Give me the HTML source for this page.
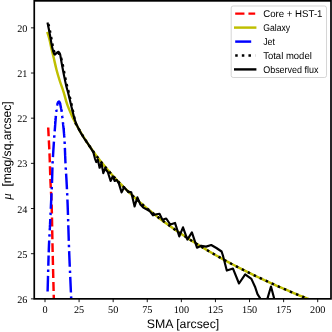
<!DOCTYPE html>
<html><head><meta charset="utf-8"><title>Surface brightness profile</title>
<style>
html,body{margin:0;padding:0;background:#fff;}
body{width:332px;height:332px;overflow:hidden;}
svg{display:block;will-change:transform;}
text{text-rendering:geometricPrecision;}
.tk{font-family:"Liberation Serif",serif;font-size:10.2px;fill:#000;}
.lb{font-family:"Liberation Sans",sans-serif;font-size:12.3px;fill:#000;}
.lg{font-family:"Liberation Sans",sans-serif;font-size:9.8px;fill:#000;}
.mu{font-family:"Liberation Serif",serif;font-style:italic;font-size:13px;fill:#000;}
</style></head><body>
<svg width="332" height="332" viewBox="0 0 332 332">
<rect width="332" height="332" fill="#fff"/>
<defs><clipPath id="ax"><rect x="34.25" y="0.85" width="296.75" height="298.0"/></clipPath></defs>
<g clip-path="url(#ax)" fill="none" stroke-width="2.45">
<path d="M48.20 127.50 C48.43 132.25 49.22 146.87 49.60 156.00 C49.98 165.13 50.15 173.87 50.50 182.30 C50.85 190.73 51.35 195.32 51.70 206.60 C52.05 217.88 52.25 234.77 52.60 250.00 C52.95 265.23 53.55 288.00 53.80 298.00 C54.05 308.00 54.05 308.00 54.10 310.00" stroke="#ff0000" stroke-dasharray="9.0 3.87" stroke-dashoffset="0"/>
<path d="M47.60 33.00 C47.93 34.17 48.98 37.50 49.60 40.00 C50.22 42.50 50.63 45.12 51.30 48.00 C51.97 50.88 52.73 53.68 53.60 57.30 C54.47 60.92 55.47 65.75 56.50 69.70 C57.53 73.65 58.60 77.23 59.80 81.00 C61.00 84.77 62.45 88.35 63.70 92.30 C64.95 96.25 65.87 100.63 67.30 104.70 C68.73 108.77 70.97 113.76 72.30 116.74 C73.63 119.73 74.30 120.70 75.30 122.59 C76.30 124.48 77.30 126.30 78.30 128.08 C79.30 129.86 80.30 131.58 81.30 133.26 C82.30 134.94 83.30 136.57 84.30 138.17 C85.30 139.77 86.30 141.32 87.30 142.84 C88.30 144.36 89.30 145.84 90.30 147.30 C91.30 148.75 92.30 150.17 93.30 151.56 C94.30 152.96 95.30 154.32 96.30 155.66 C97.30 156.99 98.30 158.30 99.30 159.59 C100.30 160.88 101.30 162.14 102.30 163.39 C103.30 164.63 104.30 165.85 105.30 167.05 C106.30 168.25 107.30 169.43 108.30 170.59 C109.30 171.75 110.30 172.89 111.30 174.02 C112.30 175.14 113.30 176.25 114.30 177.34 C115.30 178.43 116.30 179.51 117.30 180.57 C118.30 181.63 119.30 182.67 120.30 183.70 C121.30 184.73 122.30 185.75 123.30 186.75 C124.30 187.75 125.30 188.74 126.30 189.72 C127.30 190.70 128.30 191.66 129.30 192.61 C130.30 193.57 131.30 194.51 132.30 195.44 C133.30 196.37 134.30 197.28 135.30 198.19 C136.30 199.10 137.30 200.00 138.30 200.88 C139.30 201.77 140.30 202.65 141.30 203.51 C142.30 204.38 143.30 205.24 144.30 206.09 C145.30 206.93 146.30 207.77 147.30 208.60 C148.30 209.43 149.30 210.25 150.30 211.07 C151.30 211.88 152.30 212.68 153.30 213.48 C154.30 214.28 155.30 215.07 156.30 215.85 C157.30 216.63 158.30 217.40 159.30 218.17 C160.30 218.94 161.30 219.69 162.30 220.45 C163.30 221.20 164.30 221.94 165.30 222.68 C166.30 223.42 167.30 224.15 168.30 224.87 C169.30 225.60 170.30 226.32 171.30 227.03 C172.30 227.74 173.30 228.45 174.30 229.15 C175.30 229.85 176.30 230.54 177.30 231.23 C178.30 231.92 179.30 232.60 180.30 233.28 C181.30 233.95 182.30 234.62 183.30 235.29 C184.30 235.95 185.30 236.61 186.30 237.27 C187.30 237.92 188.30 238.57 189.30 239.22 C190.30 239.86 191.30 240.50 192.30 241.14 C193.30 241.77 194.30 242.40 195.30 243.03 C196.30 243.65 197.30 244.27 198.30 244.89 C199.30 245.50 200.30 246.11 201.30 246.72 C202.30 247.33 203.30 247.93 204.30 248.53 C205.30 249.12 206.30 249.72 207.30 250.31 C208.30 250.90 209.30 251.48 210.30 252.06 C211.30 252.64 212.30 253.22 213.30 253.79 C214.30 254.37 215.30 254.94 216.30 255.50 C217.30 256.07 218.30 256.63 219.30 257.19 C220.30 257.74 221.30 258.30 222.30 258.85 C223.30 259.40 224.30 259.95 225.30 260.49 C226.30 261.03 227.30 261.57 228.30 262.11 C229.30 262.64 230.30 263.18 231.30 263.71 C232.30 264.24 233.30 264.76 234.30 265.28 C235.30 265.81 236.30 266.33 237.30 266.84 C238.30 267.36 239.30 267.87 240.30 268.38 C241.30 268.89 242.30 269.40 243.30 269.90 C244.30 270.41 245.30 270.91 246.30 271.41 C247.30 271.90 248.30 272.40 249.30 272.89 C250.30 273.38 251.30 273.87 252.30 274.36 C253.30 274.84 254.30 275.33 255.30 275.81 C256.30 276.29 257.30 276.77 258.30 277.24 C259.30 277.72 260.30 278.19 261.30 278.66 C262.30 279.13 263.30 279.60 264.30 280.06 C265.30 280.53 266.30 280.99 267.30 281.45 C268.30 281.91 269.30 282.36 270.30 282.82 C271.30 283.27 272.30 283.72 273.30 284.17 C274.30 284.62 275.30 285.07 276.30 285.52 C277.30 285.96 278.30 286.40 279.30 286.84 C280.30 287.28 281.30 287.72 282.30 288.16 C283.30 288.59 284.30 289.03 285.30 289.46 C286.30 289.89 287.30 290.32 288.30 290.74 C289.30 291.17 290.30 291.59 291.30 292.02 C292.30 292.44 293.30 292.86 294.30 293.28 C295.30 293.69 296.30 294.11 297.30 294.52 C298.30 294.94 299.30 295.35 300.30 295.76 C301.30 296.17 302.30 296.58 303.30 296.98 C304.30 297.39 305.30 297.79 306.30 298.19 C307.30 298.60 308.30 299.00 309.30 299.39 C310.30 299.79 311.30 300.19 312.30 300.58 C313.30 300.98 314.30 301.37 315.30 301.76 C316.30 302.15 317.30 302.54 318.30 302.93 C319.30 303.31 320.30 303.70 321.30 304.08 C322.30 304.46 323.80 305.03 324.30 305.22" stroke="#bfbf00" stroke-linecap="square" stroke-linejoin="round"/>
<path d="M47.60 291.50 L47.62 290.99 L47.63 290.47 L47.65 289.92 L47.66 289.37 L47.68 288.79 L47.70 288.21 L47.71 287.61 L47.73 286.99 L47.75 286.36 L47.77 285.72 L47.78 285.07 L47.80 284.41 L47.82 283.73 L47.84 283.05 L47.86 282.36 L47.88 281.65 L47.90 280.94 L47.92 280.22 L47.94 279.49 L47.96 278.76 L47.98 278.02 L48.00 277.27 L48.02 276.52 L48.04 275.76 L48.06 275.00 L48.08 274.24 L48.10 273.47 L48.12 272.70 L48.14 271.93 L48.16 271.16 L48.18 270.38 L48.21 269.61 L48.23 268.83 L48.25 268.06 L48.27 267.29 L48.29 266.52 L48.31 265.75 L48.33 264.98 L48.36 264.22 L48.38 263.46 L48.40 262.71 L48.42 261.96 L48.44 261.22 L48.46 260.48 L48.49 259.75 L48.51 259.03 L48.53 258.32 L48.55 257.61 L48.57 256.92 L48.59 256.23 L48.61 255.55" stroke="#0000ff" stroke-dasharray="15.6 3.9 2.44 3.9" stroke-dashoffset="0"/>
<path d="M48.72 252.34 L48.74 251.73 L48.76 251.14 L48.78 250.56 L48.80 250.00 L48.82 249.45 L48.84 248.91 L48.86 248.37 L48.88 247.84 L48.90 247.32 L48.92 246.80 L48.94 246.29 L48.96 245.79 L48.98 245.29 L49.00 244.80 L49.02 244.32 L49.04 243.84 L49.07 243.37 L49.09 242.90 L49.11 242.44 L49.13 241.98 L49.15 241.53 L49.17 241.08 L49.19 240.64 L49.21 240.20 L49.23 239.77 L49.25 239.34 L49.27 238.92 L49.29 238.50 L49.32 238.08 L49.34 237.67 L49.36 237.26 L49.38 236.85 L49.40 236.45 L49.42 236.06 L49.44 235.66 L49.46 235.27 L49.48 234.88 L49.50 234.50 L49.52 234.11 L49.54 233.73 L49.56 233.35 L49.58 232.98 L49.60 232.61 L49.62 232.23 L49.64 231.86 L49.66 231.50 L49.68 231.13 L49.70 230.76 L49.72 230.40" stroke="#0000ff" stroke-dasharray="15.6 3.9 2.44 3.9" stroke-dashoffset="3.8"/>
<path d="M49.72 230.40 L49.74 230.04 L49.76 229.67 L49.78 229.31 L49.80 228.95 L49.82 228.59 L49.84 228.23 L49.86 227.88 L49.87 227.52 L49.89 227.16 L49.91 226.80 L49.93 226.44 L49.95 226.08 L49.96 225.72 L49.98 225.36 L50.00 225.00 L50.02 224.64 L50.03 224.29 L50.05 223.94 L50.07 223.59 L50.08 223.25 L50.10 222.92 L50.12 222.59 L50.13 222.26 L50.15 221.94 L50.17 221.62 L50.18 221.30 L50.20 220.99 L50.21 220.68 L50.23 220.38 L50.24 220.07 L50.26 219.77 L50.27 219.48 L50.29 219.18 L50.30 218.89 L50.31 218.60 L50.33 218.31 L50.34 218.02 L50.36 217.73 L50.37 217.45 L50.39 217.16 L50.40 216.88 L50.41 216.60 L50.43 216.32 L50.44 216.04 L50.46 215.76 L50.47 215.48 L50.48 215.19 L50.50 214.91 L50.51 214.63 L50.53 214.35 L50.54 214.07 L50.55 213.78 L50.57 213.50 L50.58 213.21 L50.60 212.93 L50.61 212.64 L50.62 212.35 L50.64 212.05 L50.65 211.76 L50.67 211.46 L50.68 211.16 L50.70 210.86 L50.71 210.55 L50.73 210.24 L50.74 209.93 L50.76 209.62 L50.77 209.30 L50.79 208.98 L50.80 208.65 L50.82 208.32 L50.83 207.98 L50.85 207.65 L50.87 207.30 L50.88 206.95 L50.90 206.60 L50.92 206.24 L50.93 205.88 L50.95 205.51 L50.97 205.14 L50.99 204.76 L51.00 204.38 L51.02 204.00 L51.04 203.61 L51.06 203.22 L51.08 202.83 L51.10 202.43 L51.12 202.03 L51.13 201.62 L51.15 201.22 L51.17 200.81 L51.19 200.39 L51.21 199.98 L51.23 199.56 L51.25 199.15 L51.27 198.73 L51.29 198.30 L51.31 197.88 L51.33 197.46 L51.35 197.03 L51.37 196.60 L51.39 196.18 L51.41 195.75 L51.43 195.32 L51.45 194.89 L51.47 194.46 L51.49 194.03 L51.51 193.60 L51.53 193.18 L51.55 192.75 L51.57 192.32 L51.59 191.89 L51.61 191.47 L51.62 191.04 L51.64 190.62 L51.66 190.20 L51.68 189.78 L51.70 189.36 L51.72 188.94 L51.74 188.53 L51.76 188.11 L51.77 187.70 L51.79 187.29 L51.81 186.89 L51.83 186.49 L51.84 186.09 L51.86 185.69 L51.88 185.30 L51.89 184.91 L51.91 184.53 L51.93 184.14 L51.94 183.77 L51.96 183.39 L51.97 183.02 L51.99 182.66 L52.00 182.30 L52.01 181.94 L52.03 181.59 L52.04 181.24 L52.05 180.89 L52.07 180.55 L52.08 180.21 L52.09 179.87 L52.10 179.54 L52.11 179.20 L52.12 178.87 L52.13 178.54 L52.14 178.22 L52.15 177.89 L52.16 177.57 L52.17 177.25 L52.18 176.93 L52.19 176.62 L52.20 176.30 L52.21 175.99 L52.22 175.68 L52.23 175.37 L52.24 175.07 L52.24 174.76 L52.25 174.45 L52.26 174.15 L52.27 173.85 L52.28 173.55 L52.28 173.25 L52.29 172.95 L52.30 172.65 L52.31 172.35 L52.32 172.06 L52.32 171.76 L52.33 171.46 L52.34 171.17 L52.35 170.87 L52.36 170.58 L52.36 170.28 L52.37 169.99 L52.38 169.70 L52.39 169.40 L52.40 169.11 L52.41 168.81 L52.42 168.52 L52.43 168.22 L52.44 167.93 L52.45 167.63 L52.46 167.34 L52.47 167.04 L52.48 166.74 L52.49 166.44 L52.50 166.14 L52.51 165.84 L52.52 165.54 L52.53 165.24 L52.55 164.93 L52.56 164.63 L52.57 164.32 L52.59 164.01 L52.60 163.70 L52.61 163.39 L52.63 163.08 L52.64 162.77 L52.66 162.45 L52.67 162.14 L52.69 161.83 L52.70 161.52 L52.72 161.20 L52.74 160.89 L52.75 160.58 L52.77 160.26 L52.78 159.95 L52.80 159.64 L52.82 159.32 L52.84 159.01 L52.85 158.69 L52.87 158.38 L52.89 158.07 L52.90 157.75 L52.92 157.44 L52.94 157.12 L52.96 156.81 L52.98 156.49 L52.99 156.18 L53.01 155.86 L53.03 155.55 L53.05 155.24 L53.07 154.92 L53.09 154.61 L53.11 154.29 L53.13 153.98 L53.14 153.67 L53.16 153.35 L53.18 153.04 L53.20 152.73 L53.22 152.41 L53.24 152.10 L53.26 151.79 L53.28 151.48 L53.30 151.16 L53.32 150.85 L53.34 150.54 L53.36 150.23 L53.38 149.92 L53.40 149.61 L53.42 149.30 L53.44 148.99 L53.46 148.68 L53.48 148.37 L53.50 148.06 L53.52 147.75 L53.54 147.44 L53.56 147.14 L53.58 146.83 L53.60 146.52 L53.62 146.22 L53.64 145.91 L53.66 145.61 L53.68 145.30 L53.70 145.00 L53.72 144.70 L53.74 144.39 L53.76 144.09 L53.78 143.78 L53.80 143.47 L53.82 143.17 L53.84 142.86 L53.87 142.55 L53.89 142.24 L53.91 141.93 L53.93 141.62 L53.95 141.31 L53.97 141.00 L54.00 140.69 L54.02 140.38 L54.04 140.07 L54.06 139.76 L54.08 139.45 L54.11 139.14 L54.13 138.83 L54.15 138.52 L54.17 138.21 L54.20 137.90 L54.22 137.59 L54.24 137.28 L54.27 136.97 L54.29 136.67 L54.31 136.36 L54.33 136.05 L54.36 135.75 L54.38 135.45 L54.40 135.14 L54.42 134.84 L54.45 134.54 L54.47 134.24 L54.49 133.94 L54.51 133.65 L54.54 133.35 L54.56 133.06 L54.58 132.76 L54.60 132.47 L54.63 132.18 L54.65 131.89 L54.67 131.61 L54.69 131.32 L54.71 131.04 L54.73 130.76 L54.76 130.48 L54.78 130.20 L54.80 129.93 L54.82 129.65 L54.84 129.38 L54.86 129.11 L54.88 128.85 L54.90 128.58 L54.92 128.32 L54.94 128.06 L54.96 127.81 L54.98 127.55 L55.00 127.30 L55.02 127.05 L55.04 126.80 L55.06 126.56 L55.08 126.32 L55.09 126.07 L55.11 125.83 L55.13 125.60 L55.15 125.36 L55.17 125.13 L55.19 124.89 L55.20 124.66 L55.22 124.43 L55.24 124.21 L55.26 123.98 L55.27 123.76 L55.29 123.53 L55.31 123.31 L55.33 123.09 L55.34 122.88 L55.36 122.66 L55.38 122.44 L55.39 122.23 L55.41 122.02 L55.43 121.81 L55.44 121.60 L55.46 121.39 L55.48 121.19 L55.49 120.98 L55.51 120.78 L55.53 120.57 L55.54 120.37 L55.56 120.17 L55.57 119.98 L55.59 119.78 L55.61 119.58 L55.62 119.39 L55.64 119.19 L55.65 119.00 L55.67 118.81 L55.69 118.62 L55.70 118.43 L55.72 118.24 L55.73 118.05 L55.75 117.87 L55.76 117.68 L55.78 117.50 L55.80 117.31 L55.81 117.13 L55.83 116.95 L55.84 116.77 L55.86 116.59 L55.87 116.41 L55.89 116.23 L55.91 116.05 L55.92 115.87 L55.94 115.70 L55.95 115.52 L55.97 115.35 L55.98 115.17 L56.00 115.00 L56.02 114.83 L56.03 114.65 L56.05 114.48 L56.06 114.31 L56.08 114.14 L56.09 113.97 L56.11 113.81 L56.13 113.64 L56.14 113.47 L56.16 113.31 L56.17 113.14 L56.19 112.98 L56.20 112.81 L56.22 112.65 L56.23 112.49 L56.25 112.33 L56.26 112.17 L56.28 112.01 L56.29 111.86 L56.31 111.70 L56.32 111.54 L56.34 111.39 L56.35 111.24 L56.37 111.09 L56.38 110.94 L56.40 110.79 L56.41 110.64 L56.43 110.49 L56.44 110.34 L56.46 110.20 L56.47 110.06 L56.49 109.91 L56.50 109.77 L56.52 109.63 L56.53 109.49 L56.54 109.36 L56.56 109.22 L56.57 109.09 L56.59 108.95 L56.60 108.82 L56.62 108.69 L56.63 108.56 L56.65 108.44 L56.66 108.31 L56.68 108.18 L56.69 108.06 L56.71 107.94 L56.72 107.82 L56.74 107.70 L56.75 107.58 L56.77 107.47 L56.78 107.35 L56.80 107.24 L56.81 107.13 L56.83 107.02 L56.84 106.91 L56.86 106.81 L56.87 106.70 L56.89 106.60 L56.90 106.50 L56.91 106.40 L56.93 106.30 L56.94 106.21 L56.96 106.12 L56.97 106.03 L56.99 105.94 L57.00 105.85 L57.02 105.77 L57.03 105.68 L57.05 105.60 L57.06 105.52 L57.08 105.45 L57.09 105.37 L57.11 105.30 L57.12 105.22 L57.13 105.15 L57.15 105.08 L57.16 105.02 L57.18 104.95 L57.19 104.89 L57.21 104.82 L57.22 104.76 L57.24 104.70 L57.25 104.64 L57.26 104.58 L57.28 104.52 L57.29 104.47 L57.31 104.41 L57.32 104.36 L57.34 104.31 L57.35 104.25 L57.37 104.20 L57.38 104.15 L57.40 104.10 L57.41 104.06 L57.43 104.01 L57.44 103.96 L57.46 103.92 L57.47 103.87 L57.49 103.83 L57.50 103.78 L57.52 103.74 L57.53 103.70 L57.55 103.65 L57.56 103.61 L57.58 103.57 L57.59 103.53 L57.61 103.49 L57.62 103.44 L57.64 103.40 L57.65 103.36 L57.67 103.32 L57.69 103.28 L57.70 103.24 L57.72 103.20 L57.73 103.16 L57.75 103.12 L57.77 103.08 L57.78 103.04 L57.80 103.00 L57.82 102.96 L57.83 102.92 L57.85 102.88 L57.87 102.84 L57.88 102.80 L57.90 102.76 L57.92 102.72 L57.94 102.69 L57.96 102.65 L57.97 102.61 L57.99 102.58 L58.01 102.54 L58.03 102.51 L58.05 102.47 L58.06 102.44 L58.08 102.40 L58.10 102.37 L58.12 102.34 L58.14 102.31 L58.16 102.27 L58.17 102.24 L58.19 102.21 L58.21 102.18 L58.23 102.15 L58.25 102.13 L58.27 102.10 L58.29 102.07 L58.31 102.04 L58.32 102.02 L58.34 101.99 L58.36 101.97 L58.38 101.95 L58.40 101.92 L58.42 101.90 L58.44 101.88 L58.46 101.86 L58.48 101.84 L58.50 101.82 L58.51 101.80 L58.53 101.78 L58.55 101.76 L58.57 101.75 L58.59 101.73 L58.61 101.72 L58.63 101.70 L58.65 101.69 L58.66 101.68 L58.68 101.67 L58.70 101.66 L58.72 101.65 L58.74 101.64 L58.76 101.63 L58.78 101.62 L58.79 101.62 L58.81 101.61 L58.83 101.61 L58.85 101.60 L58.86 101.60 L58.88 101.60 L58.90 101.60 L58.92 101.60 L58.93 101.60 L58.95 101.60 L58.97 101.61 L58.99 101.61 L59.00 101.62 L59.02 101.62 L59.04 101.63 L59.06 101.64 L59.07 101.65 L59.09 101.66 L59.11 101.67 L59.13 101.68 L59.14 101.69 L59.16 101.70 L59.18 101.72 L59.20 101.73 L59.21 101.75 L59.23 101.76 L59.25 101.78 L59.27 101.80 L59.28 101.82 L59.30 101.84 L59.32 101.86 L59.33 101.88 L59.35 101.90 L59.37 101.92 L59.38 101.95 L59.40 101.97 L59.42 101.99 L59.44 102.02 L59.45 102.04 L59.47 102.07 L59.49 102.10 L59.50 102.13 L59.52 102.15 L59.54 102.18 L59.55 102.21 L59.57 102.24 L59.59 102.27 L59.60 102.31 L59.62 102.34 L59.63 102.37 L59.65 102.40 L59.67 102.44 L59.68 102.47 L59.70 102.51 L59.71 102.54 L59.73 102.58 L59.75 102.61 L59.76 102.65 L59.78 102.69 L59.79 102.72 L59.81 102.76 L59.82 102.80 L59.84 102.84 L59.85 102.88 L59.87 102.92 L59.88 102.96 L59.90 103.00 L59.91 103.04 L59.93 103.08 L59.94 103.13 L59.96 103.17 L59.97 103.21 L59.99 103.26 L60.00 103.30 L60.02 103.35 L60.03 103.39 L60.04 103.44 L60.06 103.49 L60.07 103.53 L60.08 103.58 L60.10 103.63 L60.11 103.68 L60.12 103.73 L60.14 103.78 L60.15 103.83 L60.16 103.88 L60.17 103.94 L60.19 103.99 L60.20 104.04 L60.21 104.10 L60.22 104.15 L60.24 104.21 L60.25 104.26 L60.26 104.32 L60.27 104.38 L60.29 104.44 L60.30 104.49 L60.31 104.55 L60.33 104.61 L60.34 104.67 L60.35 104.73 L60.36 104.79 L60.38 104.86 L60.39 104.92 L60.40 104.98 L60.41 105.04 L60.43 105.11 L60.44 105.17 L60.45 105.24 L60.46 105.30 L60.48 105.37 L60.49 105.44 L60.50 105.50 L60.52 105.57 L60.53 105.64 L60.54 105.71 L60.56 105.78 L60.57 105.85 L60.58 105.92 L60.60 105.99 L60.61 106.06 L60.63 106.13 L60.64 106.20 L60.66 106.28 L60.67 106.35 L60.69 106.43 L60.70 106.50 L60.72 106.57 L60.73 106.65 L60.75 106.72 L60.76 106.80 L60.78 106.87 L60.79 106.94 L60.81 107.01 L60.82 107.08 L60.84 107.15 L60.85 107.23 L60.87 107.30 L60.88 107.37 L60.90 107.44 L60.91 107.51 L60.93 107.58 L60.94 107.65 L60.96 107.73 L60.97 107.80 L60.99 107.87 L61.00 107.94 L61.02 108.02 L61.03 108.09 L61.05 108.17 L61.07 108.24 L61.08 108.32 L61.10 108.40 L61.11 108.48 L61.13 108.56 L61.15 108.64 L61.16 108.72 L61.18 108.80 L61.20 108.89 L61.21 108.97 L61.23 109.06 L61.24 109.15 L61.26 109.24 L61.28 109.33 L61.30 109.42 L61.31 109.51 L61.33 109.61 L61.35 109.71 L61.36 109.81 L61.38 109.91 L61.40 110.02 L61.42 110.12 L61.44 110.23 L61.45 110.34 L61.47 110.45 L61.49 110.57 L61.51 110.68 L61.53 110.80 L61.55 110.93 L61.56 111.05 L61.58 111.18 L61.60 111.31 L61.62 111.44 L61.64 111.58 L61.66 111.71 L61.68 111.86 L61.70 112.00 L61.72 112.15 L61.74 112.30 L61.76 112.45 L61.78 112.60 L61.80 112.76 L61.82 112.92 L61.85 113.08 L61.87 113.24 L61.89 113.41 L61.91 113.58 L61.93 113.75 L61.95 113.92 L61.98 114.09 L62.00 114.27 L62.02 114.45 L62.04 114.63 L62.07 114.81 L62.09 115.00 L62.11 115.18 L62.14 115.37 L62.16 115.56 L62.18 115.75 L62.21 115.95 L62.23 116.14 L62.25 116.34 L62.28 116.53 L62.30 116.73 L62.33 116.94 L62.35 117.14 L62.38 117.34 L62.40 117.55 L62.42 117.76 L62.45 117.97 L62.47 118.18 L62.50 118.39 L62.52 118.60 L62.55 118.81 L62.57 119.03 L62.59 119.25 L62.62 119.46 L62.64 119.68 L62.67 119.90 L62.69 120.12 L62.72 120.34 L62.74 120.57 L62.76 120.79 L62.79 121.01 L62.81 121.24 L62.84 121.47 L62.86 121.69 L62.89 121.92 L62.91 122.15 L62.93 122.38 L62.96 122.61 L62.98 122.84 L63.01 123.07 L63.03 123.30 L63.05 123.53 L63.08 123.77 L63.10 124.00 L63.12 124.23 L63.15 124.47 L63.17 124.70 L63.19 124.93 L63.22 125.17 L63.24 125.40 L63.27 125.64 L63.29 125.87 L63.31 126.11 L63.34 126.35 L63.36 126.58 L63.39 126.82 L63.41 127.06 L63.44 127.30 L63.46 127.54 L63.48 127.78 L63.51 128.02 L63.53 128.26 L63.56 128.51 L63.58 128.75 L63.61 129.00 L63.63 129.24 L63.65 129.49 L63.68 129.74 L63.70 129.99 L63.73 130.25 L63.75 130.50 L63.78 130.75 L63.80 131.01 L63.83 131.27 L63.85 131.53 L63.87 131.79 L63.90 132.05 L63.92 132.32 L63.95 132.58 L63.97 132.85 L63.99 133.12 L64.02 133.40 L64.04 133.67 L64.06 133.95 L64.09 134.23 L64.11 134.51 L64.13 134.79 L64.16 135.08 L64.18 135.36 L64.20 135.66 L64.22 135.95 L64.25 136.24 L64.27 136.54 L64.29 136.84 L64.31 137.14 L64.33 137.45 L64.35 137.76 L64.38 138.07 L64.40 138.38 L64.42 138.70 L64.44 139.02 L64.46 139.34 L64.48 139.67 L64.50 140.00 L64.52 140.33 L64.54 140.67 L64.56 141.02 L64.58 141.37 L64.60 141.72 L64.62 142.08 L64.63 142.45 L64.65 142.81 L64.67 143.19 L64.69 143.56 L64.71 143.94 L64.72 144.33 L64.74 144.72 L64.76 145.11 L64.78 145.50 L64.79 145.90 L64.81 146.30 L64.83 146.70 L64.84 147.11 L64.86 147.52 L64.88 147.93 L64.89 148.34 L64.91 148.75 L64.92 149.17 L64.94 149.59 L64.96 150.01 L64.97 150.42 L64.99 150.85 L65.00 151.27 L65.02 151.69 L65.03 152.11 L65.05 152.53 L65.07 152.95 L65.08 153.38 L65.10 153.80 L65.11 154.22 L65.13 154.64 L65.14 155.06 L65.16 155.48 L65.17 155.89 L65.19 156.31 L65.21 156.72 L65.22 157.13 L65.24 157.54 L65.25 157.95 L65.27 158.36 L65.28 158.76 L65.30 159.16 L65.32 159.56 L65.33 159.96 L65.35 160.35 L65.36 160.74 L65.38 161.12 L65.40 161.50 L65.41 161.88 L65.43 162.25 L65.45 162.62 L65.47 162.99 L65.48 163.35 L65.50 163.70 L65.52 164.05 L65.54 164.40 L65.55 164.74 L65.57 165.08 L65.59 165.41 L65.61 165.74 L65.62 166.07 L65.64 166.39 L65.66 166.71 L65.68 167.03 L65.70 167.34 L65.71 167.66 L65.73 167.96 L65.75 168.27 L65.77 168.57 L65.79 168.88 L65.80 169.18 L65.82 169.48 L65.84 169.77 L65.86 170.07 L65.88 170.36 L65.90 170.65 L65.91 170.94 L65.93 171.23 L65.95 171.52 L65.97 171.81 L65.99 172.10 L66.01 172.39 L66.03 172.68 L66.04 172.96 L66.06 173.25 L66.08 173.54 L66.10 173.83 L66.12 174.11 L66.14 174.40 L66.16 174.69 L66.17 174.99 L66.19 175.28 L66.21 175.57 L66.23 175.87 L66.25 176.16 L66.27 176.46 L66.29 176.76 L66.30 177.06 L66.32 177.37 L66.34 177.68 L66.36 177.98 L66.38 178.30 L66.40 178.61 L66.42 178.93 L66.43 179.25 L66.45 179.57 L66.47 179.90 L66.49 180.23 L66.51 180.57 L66.53 180.91 L66.54 181.25 L66.56 181.59 L66.58 181.94 L66.60 182.30 L66.62 182.66 L66.64 183.01 L66.65 183.36 L66.67 183.71 L66.69 184.06 L66.71 184.41 L66.73 184.76 L66.74 185.11 L66.76 185.45 L66.78 185.80 L66.80 186.14 L66.82 186.49 L66.83 186.83 L66.85 187.18 L66.87 187.53 L66.89 187.87 L66.90 188.22 L66.92 188.57 L66.94 188.92 L66.96 189.27 L66.97 189.62 L66.99 189.98 L67.01 190.33 L67.03 190.69 L67.04 191.05 L67.06 191.42 L67.08 191.78 L67.10 192.15 L67.11 192.52 L67.13 192.90 L67.15 193.28 L67.17 193.66 L67.18 194.05 L67.20 194.44 L67.22 194.83 L67.24 195.23 L67.26 195.63 L67.27 196.04 L67.29 196.46 L67.31 196.87 L67.33 197.30 L67.35 197.73 L67.37 198.16 L67.39 198.60 L67.40 199.05 L67.42 199.50 L67.44 199.96 L67.46 200.43 L67.48 200.90 L67.50 201.38 L67.52 201.87 L67.54 202.36 L67.56 202.86 L67.58 203.37 L67.60 203.89 L67.62 204.41 L67.64 204.95 L67.66 205.49 L67.68 206.04 L67.70 206.60 L67.72 207.17 L67.74 207.75 L67.76 208.34 L67.78 208.94 L67.80 209.55 L67.83 210.17 L67.85 210.80 L67.87 211.44 L67.89 212.09 L67.91 212.74 L67.93 213.41 L67.95 214.08 L67.98 214.76 L68.00 215.45 L68.02 216.14 L68.04 216.84 L68.06 217.55 L68.09 218.26 L68.11 218.98 L68.13 219.70 L68.15 220.43 L68.17 221.17 L68.20 221.91 L68.22 222.65 L68.24 223.40 L68.26 224.15 L68.29 224.91 L68.31 225.67 L68.33 226.43 L68.36 227.19 L68.38 227.96 L68.40 228.73 L68.43 229.50 L68.45 230.27 L68.47 231.05 L68.50 231.82 L68.52 232.60 L68.54 233.38 L68.57 234.15 L68.59 234.93 L68.62 235.71 L68.64 236.48 L68.67 237.26 L68.69 238.03 L68.71 238.80 L68.74 239.57 L68.76 240.34 L68.79 241.10 L68.81 241.87 L68.84 242.63 L68.87 243.38 L68.89 244.14 L68.92 244.89 L68.94 245.63 L68.97 246.37 L68.99 247.11 L69.02 247.84 L69.05 248.56 L69.07 249.29 L69.10 250.00 L69.13 250.71 L69.15 251.43 L69.18 252.16 L69.21 252.89 L69.24 253.63 L69.27 254.36 L69.30 255.11 L69.33 255.85 L69.36 256.61 L69.39 257.36 L69.42 258.11 L69.45 258.87 L69.48 259.63 L69.52 260.40 L69.55 261.16 L69.58 261.93 L69.61 262.69 L69.65 263.46 L69.68 264.23 L69.71 264.99 L69.74 265.76 L69.78 266.52 L69.81 267.29 L69.84 268.05 L69.88 268.81 L69.91 269.57 L69.94 270.33 L69.98 271.09 L70.01 271.84 L70.04 272.59 L70.08 273.33 L70.11 274.07 L70.14 274.81 L70.18 275.54 L70.21 276.27 L70.24 277.00 L70.27 277.71 L70.30 278.42 L70.34 279.13 L70.37 279.83 L70.40 280.52 L70.43 281.21 L70.46 281.89 L70.49 282.56 L70.52 283.22 L70.55 283.87 L70.58 284.52 L70.60 285.16 L70.63 285.79 L70.66 286.41 L70.69 287.01 L70.71 287.61 L70.74 288.20 L70.76 288.78 L70.79 289.34 L70.81 289.90 L70.83 290.44 L70.86 290.97 L70.88 291.49 L70.90 292.00 L70.92 292.50 L70.94 292.98 L70.96 293.46 L70.98 293.93 L71.00 294.40 L71.02 294.85 L71.04 295.30 L71.05 295.74 L71.07 296.17 L71.09 296.60 L71.11 297.01 L71.12 297.42 L71.14 297.83 L71.15 298.22 L71.17 298.61 L71.18 298.99 L71.20 299.36 L71.21 299.73 L71.23 300.09 L71.24 300.44 L71.25 300.79 L71.27 301.13 L71.28 301.46 L71.29 301.79 L71.31 302.11 L71.32 302.43 L71.33 302.74 L71.34 303.04 L71.35 303.33 L71.36 303.62 L71.37 303.91 L71.38 304.19 L71.39 304.46 L71.40 304.73 L71.41 304.99 L71.42 305.25 L71.43 305.50 L71.44 305.75 L71.45 305.99 L71.46 306.22 L71.47 306.45 L71.48 306.68 L71.48 306.90 L71.49 307.12 L71.50 307.33 L71.51 307.54 L71.52 307.74 L71.52 307.94 L71.53 308.13 L71.54 308.32 L71.54 308.50 L71.55 308.69 L71.56 308.86 L71.56 309.04 L71.57 309.21 L71.58 309.37 L71.58 309.53 L71.59 309.69 L71.59 309.85 L71.60 310.00" stroke="#0000ff" stroke-dasharray="15.6 3.9 2.44 3.9" stroke-dashoffset="4.21"/>
<path d="M48.40 24.00 C48.63 25.00 49.32 27.67 49.80 30.00 C50.28 32.33 50.83 35.50 51.30 38.00 C51.77 40.50 52.12 42.75 52.60 45.00 C53.08 47.25 53.55 49.92 54.20 51.50 C54.85 53.08 55.73 54.17 56.50 54.50 C57.27 54.83 58.12 53.33 58.80 53.50 C59.48 53.67 60.13 54.42 60.60 55.50 C61.07 56.58 61.20 58.25 61.60 60.00 C62.00 61.75 62.45 63.35 63.00 66.00 C63.55 68.65 64.23 72.62 64.90 75.90 C65.57 79.18 66.37 82.97 67.00 85.70 C67.63 88.43 67.93 89.13 68.70 92.30 C69.47 95.47 70.68 100.58 71.60 104.70 C72.52 108.82 73.58 114.02 74.20 117.00 C74.82 119.98 74.62 120.75 75.30 122.59 C75.98 124.44 77.30 126.30 78.30 128.08 C79.30 129.86 80.30 131.58 81.30 133.26 C82.30 134.94 83.30 136.57 84.30 138.17 C85.30 139.77 86.30 141.32 87.30 142.84 C88.30 144.36 89.30 145.84 90.30 147.30 C91.30 148.75 92.30 150.17 93.30 151.56 C94.30 152.96 95.30 154.32 96.30 155.66 C97.30 156.99 98.30 158.30 99.30 159.59 C100.30 160.88 101.30 162.14 102.30 163.39 C103.30 164.63 104.30 165.85 105.30 167.05 C106.30 168.25 107.30 169.43 108.30 170.59 C109.30 171.75 110.30 172.89 111.30 174.02 C112.30 175.14 113.30 176.25 114.30 177.34 C115.30 178.43 116.30 179.51 117.30 180.57 C118.30 181.63 119.30 182.67 120.30 183.70 C121.30 184.73 122.30 185.75 123.30 186.75 C124.30 187.75 125.30 188.74 126.30 189.72 C127.30 190.70 128.30 191.66 129.30 192.61 C130.30 193.57 131.30 194.51 132.30 195.44 C133.30 196.37 134.30 197.28 135.30 198.19 C136.30 199.10 137.30 200.00 138.30 200.88 C139.30 201.77 140.30 202.65 141.30 203.51 C142.30 204.38 143.30 205.24 144.30 206.09 C145.30 206.93 146.30 207.77 147.30 208.60 C148.30 209.43 149.30 210.25 150.30 211.07 C151.30 211.88 152.30 212.68 153.30 213.48 C154.30 214.28 155.30 215.07 156.30 215.85 C157.30 216.63 158.30 217.40 159.30 218.17 C160.30 218.94 161.30 219.69 162.30 220.45 C163.30 221.20 164.30 221.94 165.30 222.68 C166.30 223.42 167.30 224.15 168.30 224.87 C169.30 225.60 170.30 226.32 171.30 227.03 C172.30 227.74 173.30 228.45 174.30 229.15 C175.30 229.85 176.30 230.54 177.30 231.23 C178.30 231.92 179.30 232.60 180.30 233.28 C181.30 233.95 182.30 234.62 183.30 235.29 C184.30 235.95 185.30 236.61 186.30 237.27 C187.30 237.92 188.30 238.57 189.30 239.22 C190.30 239.86 191.30 240.50 192.30 241.14 C193.30 241.77 194.30 242.40 195.30 243.03 C196.30 243.65 197.30 244.27 198.30 244.89 C199.30 245.50 200.30 246.11 201.30 246.72 C202.30 247.33 203.30 247.93 204.30 248.53 C205.30 249.12 206.30 249.72 207.30 250.31 C208.30 250.90 209.30 251.48 210.30 252.06 C211.30 252.64 212.30 253.22 213.30 253.79 C214.30 254.37 215.30 254.94 216.30 255.50 C217.30 256.07 218.30 256.63 219.30 257.19 C220.30 257.74 221.30 258.30 222.30 258.85 C223.30 259.40 224.30 259.95 225.30 260.49 C226.30 261.03 227.30 261.57 228.30 262.11 C229.30 262.64 230.30 263.18 231.30 263.71 C232.30 264.24 233.30 264.76 234.30 265.28 C235.30 265.81 236.30 266.33 237.30 266.84 C238.30 267.36 239.30 267.87 240.30 268.38 C241.30 268.89 242.30 269.40 243.30 269.90 C244.30 270.41 245.30 270.91 246.30 271.41 C247.30 271.90 248.30 272.40 249.30 272.89 C250.30 273.38 251.30 273.87 252.30 274.36 C253.30 274.84 254.30 275.33 255.30 275.81 C256.30 276.29 257.30 276.77 258.30 277.24 C259.30 277.72 260.30 278.19 261.30 278.66 C262.30 279.13 263.30 279.60 264.30 280.06 C265.30 280.53 266.30 280.99 267.30 281.45 C268.30 281.91 269.30 282.36 270.30 282.82 C271.30 283.27 272.30 283.72 273.30 284.17 C274.30 284.62 275.30 285.07 276.30 285.52 C277.30 285.96 278.30 286.40 279.30 286.84 C280.30 287.28 281.30 287.72 282.30 288.16 C283.30 288.59 284.30 289.03 285.30 289.46 C286.30 289.89 287.30 290.32 288.30 290.74 C289.30 291.17 290.30 291.59 291.30 292.02 C292.30 292.44 293.30 292.86 294.30 293.28 C295.30 293.69 296.30 294.11 297.30 294.52 C298.30 294.94 299.30 295.35 300.30 295.76 C301.30 296.17 302.30 296.58 303.30 296.98 C304.30 297.39 305.30 297.79 306.30 298.19 C307.30 298.60 308.30 299.00 309.30 299.39 C310.30 299.79 311.30 300.19 312.30 300.58 C313.30 300.98 314.30 301.37 315.30 301.76 C316.30 302.15 317.30 302.54 318.30 302.93 C319.30 303.31 320.30 303.70 321.30 304.08 C322.30 304.46 323.80 305.03 324.30 305.22" stroke="#000" stroke-dasharray="2.5 4.125" stroke-dashoffset="0"/>
<path d="M47.70 23.50 C47.92 24.58 48.53 27.58 49.00 30.00 C49.47 32.42 50.05 35.50 50.50 38.00 C50.95 40.50 51.28 42.92 51.70 45.00 C52.12 47.08 52.53 48.92 53.00 50.50 C53.47 52.08 53.92 54.08 54.50 54.50 C55.08 54.92 55.83 53.45 56.50 53.00 C57.17 52.55 57.92 51.63 58.50 51.80 C59.08 51.97 59.65 53.13 60.00 54.00 C60.35 54.87 60.23 55.00 60.60 57.00 C60.97 59.00 61.62 62.85 62.20 66.00 C62.78 69.15 63.43 72.62 64.10 75.90 C64.77 79.18 65.55 82.97 66.20 85.70 C66.85 88.43 67.20 89.13 68.00 92.30 C68.80 95.47 70.00 100.58 71.00 104.70 C72.00 108.82 73.13 113.85 74.00 117.00 C74.87 120.15 75.22 121.22 76.20 123.60 C77.18 125.98 78.67 128.98 79.90 131.30 C81.13 133.62 82.17 135.28 83.60 137.50 C85.03 139.72 87.68 143.42 88.50 144.60 L91.00 148.40 L93.40 152.40 L94.90 158.30 L96.30 162.10 L97.90 159.70 L99.60 167.70 L101.50 163.30 L103.30 173.10 L105.10 168.60 L107.80 172.00 L110.60 181.00 L112.80 176.30 L114.70 181.00 L116.70 179.80 L118.90 183.60 L121.60 192.40 L124.10 187.20 L128.00 191.60 L131.30 192.40 L134.60 206.40 L137.40 197.40 L140.40 204.50 L143.30 207.60 L147.00 209.50 L150.00 211.30 L153.00 215.30 L156.50 214.20 L159.50 213.80 L162.40 219.80 L166.20 218.50 L170.30 224.50 L175.00 222.90 L179.30 236.40 L183.00 227.30 L187.40 239.60 L191.90 232.40 L197.00 247.70 L201.10 245.70 L206.10 246.60 L211.20 245.00 L216.40 248.00 L221.60 251.50 L223.10 256.20 L226.80 270.60 L233.00 268.60 L239.00 283.50 L245.20 274.30 L251.40 278.90 L255.00 286.70 L257.50 294.10 L260.60 299.00 L262.00 306.00 L266.50 306.00 L267.50 298.40 L271.00 286.50 L274.30 299.00 L275.50 304.00" stroke="#000" stroke-width="2.15" stroke-linecap="square" stroke-linejoin="round"/>
</g>
<rect x="34.25" y="0.85" width="296.75" height="298.0" fill="none" stroke="#000" stroke-width="1.7"/>
<g stroke="#000" stroke-width="0.9"><line x1="45.00" y1="298.85" x2="45.00" y2="302.15000000000003"/><line x1="79.09" y1="298.85" x2="79.09" y2="302.15000000000003"/><line x1="113.17" y1="298.85" x2="113.17" y2="302.15000000000003"/><line x1="147.26" y1="298.85" x2="147.26" y2="302.15000000000003"/><line x1="181.35" y1="298.85" x2="181.35" y2="302.15000000000003"/><line x1="215.44" y1="298.85" x2="215.44" y2="302.15000000000003"/><line x1="249.52" y1="298.85" x2="249.52" y2="302.15000000000003"/><line x1="283.61" y1="298.85" x2="283.61" y2="302.15000000000003"/><line x1="317.70" y1="298.85" x2="317.70" y2="302.15000000000003"/><line x1="34.25" y1="27.85" x2="30.95" y2="27.85"/><line x1="34.25" y1="73.02" x2="30.95" y2="73.02"/><line x1="34.25" y1="118.18" x2="30.95" y2="118.18"/><line x1="34.25" y1="163.35" x2="30.95" y2="163.35"/><line x1="34.25" y1="208.52" x2="30.95" y2="208.52"/><line x1="34.25" y1="253.69" x2="30.95" y2="253.69"/><line x1="34.25" y1="298.85" x2="30.95" y2="298.85"/></g>
<text class="tk" x="45.00" y="313.4" text-anchor="middle">0</text><text class="tk" x="79.09" y="313.4" text-anchor="middle">25</text><text class="tk" x="113.17" y="313.4" text-anchor="middle">50</text><text class="tk" x="147.26" y="313.4" text-anchor="middle">75</text><text class="tk" x="181.35" y="313.4" text-anchor="middle">100</text><text class="tk" x="215.44" y="313.4" text-anchor="middle">125</text><text class="tk" x="249.52" y="313.4" text-anchor="middle">150</text><text class="tk" x="283.61" y="313.4" text-anchor="middle">175</text><text class="tk" x="317.70" y="313.4" text-anchor="middle">200</text><text class="tk" x="27.4" y="31.85" text-anchor="end">20</text><text class="tk" x="27.4" y="77.02" text-anchor="end">21</text><text class="tk" x="27.4" y="122.18" text-anchor="end">22</text><text class="tk" x="27.4" y="167.35" text-anchor="end">23</text><text class="tk" x="27.4" y="212.52" text-anchor="end">24</text><text class="tk" x="27.4" y="257.69" text-anchor="end">25</text><text class="tk" x="27.4" y="302.85" text-anchor="end">26</text>
<text class="lb" x="183" y="327.8" text-anchor="middle">SMA [arcsec]</text>
<text class="lb" transform="translate(11.3,186.6) rotate(-90)" textLength="85.3" lengthAdjust="spacingAndGlyphs">[mag/sq.arcsec]</text>
<text class="mu" transform="translate(11.0,199.7) rotate(-90)">μ</text>
<rect x="231.2" y="6.0" width="95.3" height="71.5" rx="2" ry="2" fill="#fff" fill-opacity="0.8" stroke="#ccc" stroke-opacity="0.8" stroke-width="1"/>
<g fill="none" stroke-width="2.45"><path d="M235.2 13.6 H255.2" stroke="#f00" stroke-dasharray="9.25 4"/><path d="M235.2 27.6 H255.2" stroke="#bfbf00" stroke-linecap="square"/><path d="M235.2 41.6 H255.2" stroke="#00f" stroke-dasharray="16 4 2.5 4"/><path d="M235.2 55.5 H255.2" stroke="#000" stroke-dasharray="2.5 4.125"/><path d="M235.2 69.4 H255.2" stroke="#000" stroke-width="2.4" stroke-linecap="square"/></g>
<text class="lg" x="263.2" y="17.00" textLength="59.3" lengthAdjust="spacingAndGlyphs">Core + HST-1</text><text class="lg" x="263.2" y="31.00" textLength="27.0" lengthAdjust="spacingAndGlyphs">Galaxy</text><text class="lg" x="263.2" y="45.00" textLength="11.8" lengthAdjust="spacingAndGlyphs">Jet</text><text class="lg" x="263.2" y="58.90" textLength="48.6" lengthAdjust="spacingAndGlyphs">Total model</text><text class="lg" x="263.2" y="72.80" textLength="55.3" lengthAdjust="spacingAndGlyphs">Observed flux</text>
</svg>
</body></html>
